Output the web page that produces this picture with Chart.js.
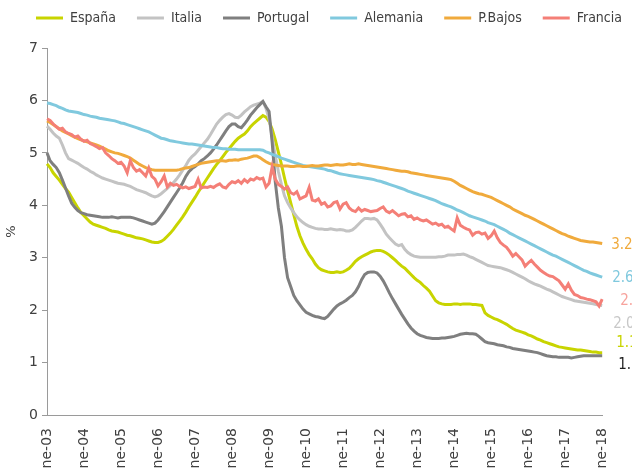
<!DOCTYPE html>
<html>
<head>
<meta charset="utf-8">
<script src="https://cdn.jsdelivr.net/npm/chart.js@4"></script>
<style>
  html, body { margin: 0; padding: 0; background: #fff; overflow: hidden; }
  #wrap { position: relative; width: 632px; height: 490px; }
</style>
</head>
<body>
<div id="wrap"><canvas id="myChart"></canvas></div>
<script>
// categories: monthly, ene-03 .. ene-18
const meses = ["ene", "feb", "mar", "abr", "may", "jun", "jul", "ago", "sep", "oct", "nov", "dic"];
const anios = ["03", "04", "05", "06", "07", "08", "09", "10", "11", "12", "13", "14", "15", "16", "17", "18"];

const espana = [
  4.79, 4.72, 4.62, 4.55, 4.48, 4.40, 4.32, 4.25, 4.15, 4.05, 3.95, 3.86,
  3.80, 3.74, 3.68, 3.64, 3.62, 3.60, 3.58, 3.56, 3.53, 3.51, 3.50, 3.49,
  3.47, 3.45, 3.43, 3.42, 3.40, 3.38, 3.37, 3.36, 3.34, 3.32, 3.30, 3.29,
  3.29, 3.31, 3.35, 3.41, 3.47, 3.54, 3.62, 3.70, 3.78, 3.87, 3.97, 4.06,
  4.15, 4.25, 4.34, 4.43, 4.52, 4.61, 4.70, 4.78, 4.85, 4.93, 5.01, 5.08,
  5.15, 5.22, 5.28, 5.32, 5.36, 5.42, 5.50, 5.56, 5.61, 5.66, 5.71, 5.68,
  5.60, 5.45, 5.25, 5.02, 4.78, 4.52, 4.28, 4.05, 3.82, 3.60, 3.42, 3.28,
  3.16, 3.06, 2.98, 2.88, 2.81, 2.77, 2.75, 2.73, 2.72, 2.72, 2.73, 2.72,
  2.73, 2.76, 2.80, 2.86, 2.93, 2.98, 3.02, 3.05, 3.08, 3.11, 3.13, 3.14,
  3.14, 3.12, 3.09, 3.05, 3.00, 2.95, 2.89, 2.84, 2.80, 2.74, 2.68, 2.62,
  2.57, 2.53, 2.47, 2.42, 2.36, 2.27, 2.18, 2.14, 2.12, 2.11, 2.11, 2.11,
  2.12, 2.12, 2.11, 2.12, 2.12, 2.12, 2.11, 2.11, 2.10, 2.09, 1.95, 1.90,
  1.87, 1.84, 1.82, 1.79, 1.76, 1.73, 1.69, 1.65, 1.62, 1.60, 1.58, 1.56,
  1.53, 1.51, 1.48, 1.45, 1.43, 1.40, 1.38, 1.36, 1.34, 1.32, 1.30, 1.29,
  1.28, 1.27, 1.26, 1.25, 1.24, 1.24, 1.23, 1.22, 1.21, 1.20, 1.20, 1.19,
  1.19
];

const italia = [
  5.51, 5.45, 5.38, 5.32, 5.28, 5.15, 5.00, 4.89, 4.86, 4.83, 4.80, 4.76,
  4.72, 4.69, 4.65, 4.62, 4.58, 4.55, 4.52, 4.50, 4.48, 4.46, 4.44, 4.42,
  4.41, 4.40, 4.38, 4.36, 4.33, 4.30, 4.28, 4.26, 4.24, 4.21, 4.18, 4.16,
  4.18, 4.22, 4.27, 4.32, 4.38, 4.43, 4.50, 4.58, 4.67, 4.76, 4.86, 4.93,
  4.98, 5.05, 5.12, 5.19, 5.26, 5.35, 5.45, 5.55, 5.62, 5.68, 5.73, 5.75,
  5.72, 5.68, 5.67, 5.72, 5.78, 5.83, 5.88, 5.91, 5.93, 5.95, 5.98, 5.85,
  5.65, 5.30, 4.95, 4.65, 4.40, 4.18, 4.05, 3.95, 3.86, 3.78, 3.72, 3.67,
  3.63, 3.60, 3.58, 3.56, 3.55, 3.55, 3.54, 3.54, 3.55, 3.54, 3.53, 3.54,
  3.53, 3.51, 3.51, 3.53, 3.58, 3.64, 3.70, 3.75, 3.75, 3.74, 3.75, 3.72,
  3.64, 3.55, 3.45, 3.38, 3.32, 3.26, 3.23, 3.25, 3.16, 3.10, 3.06, 3.03,
  3.02, 3.01, 3.01, 3.01, 3.01, 3.01, 3.01, 3.02, 3.02, 3.03, 3.05, 3.05,
  3.05, 3.06, 3.06, 3.07, 3.05, 3.02, 3.00, 2.97, 2.94, 2.91, 2.88, 2.85,
  2.84, 2.83, 2.82, 2.81, 2.79, 2.77, 2.75, 2.72, 2.69, 2.66, 2.63, 2.60,
  2.56, 2.53, 2.50, 2.48, 2.46, 2.43, 2.40, 2.38, 2.35, 2.32, 2.29, 2.26,
  2.24, 2.22, 2.20, 2.18, 2.17, 2.16, 2.15, 2.14, 2.13, 2.12, 2.11, 2.10,
  2.09
];

const portugal = [
  5.00, 4.85, 4.78, 4.72, 4.62, 4.48, 4.33, 4.18, 4.04, 3.96, 3.90, 3.86,
  3.84, 3.82, 3.81, 3.80, 3.79, 3.78, 3.77, 3.77, 3.77, 3.78, 3.77, 3.76,
  3.77, 3.77, 3.77, 3.77, 3.76, 3.74, 3.72, 3.70, 3.68, 3.66, 3.64, 3.66,
  3.72, 3.80, 3.88, 3.97, 4.06, 4.15, 4.24, 4.33, 4.43, 4.55, 4.64, 4.70,
  4.74, 4.79, 4.85, 4.89, 4.94, 5.00, 5.07, 5.15, 5.24, 5.33, 5.42, 5.50,
  5.55, 5.55, 5.50, 5.48, 5.55, 5.63, 5.72, 5.79, 5.86, 5.92, 5.98, 5.88,
  5.79, 5.20, 4.45, 3.95, 3.60, 3.00, 2.62, 2.45, 2.28, 2.18, 2.10, 2.02,
  1.96, 1.93, 1.90, 1.88, 1.87, 1.85, 1.84, 1.88, 1.95, 2.02, 2.08, 2.12,
  2.15, 2.19, 2.24, 2.28, 2.35, 2.45, 2.58, 2.68, 2.72, 2.73, 2.73, 2.71,
  2.65, 2.56, 2.45, 2.33, 2.22, 2.12, 2.02, 1.92, 1.83, 1.74, 1.66, 1.60,
  1.55, 1.52, 1.50, 1.48, 1.47, 1.46, 1.46, 1.46, 1.47, 1.47, 1.48, 1.49,
  1.50, 1.52, 1.54, 1.55, 1.56, 1.55, 1.55, 1.54, 1.50, 1.45, 1.40, 1.38,
  1.37, 1.36, 1.34, 1.33, 1.32, 1.30, 1.29, 1.27, 1.26, 1.25, 1.24, 1.23,
  1.22, 1.21, 1.20, 1.19, 1.17, 1.15, 1.13, 1.12, 1.11, 1.11, 1.10, 1.10,
  1.10, 1.10, 1.09, 1.10, 1.11, 1.12, 1.13, 1.13, 1.13, 1.13, 1.13, 1.13,
  1.13
];

const alemania = [
  5.95, 5.94, 5.92, 5.90, 5.87, 5.85, 5.82, 5.80, 5.79, 5.78, 5.77, 5.75,
  5.73, 5.72, 5.70, 5.69, 5.68, 5.66, 5.65, 5.64, 5.63, 5.62, 5.61, 5.59,
  5.57, 5.56, 5.54, 5.52, 5.50, 5.48, 5.46, 5.44, 5.42, 5.40, 5.37, 5.34,
  5.31, 5.28, 5.27, 5.25, 5.23, 5.22, 5.21, 5.20, 5.19, 5.18, 5.17, 5.17,
  5.16, 5.15, 5.14, 5.13, 5.12, 5.11, 5.10, 5.10, 5.09, 5.08, 5.08, 5.07,
  5.07, 5.07, 5.06, 5.06, 5.06, 5.06, 5.06, 5.06, 5.06, 5.06, 5.05, 5.02,
  5.00, 4.97, 4.95, 4.93, 4.90, 4.88, 4.86, 4.84, 4.82, 4.80, 4.78, 4.76,
  4.75, 4.74, 4.73, 4.72, 4.71, 4.70, 4.69, 4.67, 4.66, 4.64, 4.62, 4.60,
  4.59, 4.58, 4.57, 4.56, 4.55, 4.54, 4.53, 4.52, 4.51, 4.50, 4.49, 4.47,
  4.46, 4.44, 4.42, 4.40, 4.38, 4.36, 4.34, 4.32, 4.30, 4.27, 4.25, 4.23,
  4.21, 4.19, 4.17, 4.15, 4.13, 4.11, 4.09, 4.06, 4.03, 4.01, 3.99, 3.97,
  3.94, 3.91, 3.89, 3.86, 3.83, 3.80, 3.78, 3.76, 3.74, 3.72, 3.70, 3.67,
  3.65, 3.63, 3.60, 3.57, 3.54, 3.51, 3.47, 3.44, 3.41, 3.38, 3.35, 3.32,
  3.29, 3.26, 3.23, 3.20, 3.17, 3.14, 3.11, 3.08, 3.05, 3.03, 3.00, 2.97,
  2.94, 2.91, 2.88, 2.85, 2.82, 2.79, 2.76, 2.74, 2.71, 2.69, 2.67, 2.65,
  2.63
];

const pbajos = [
  5.61, 5.58, 5.54, 5.50, 5.46, 5.42, 5.39, 5.36, 5.33, 5.30, 5.27, 5.25,
  5.23, 5.21, 5.19, 5.17, 5.15, 5.13, 5.10, 5.07, 5.04, 5.02, 5.00, 4.99,
  4.97, 4.95, 4.93, 4.90, 4.86, 4.82, 4.78, 4.75, 4.72, 4.70, 4.68, 4.67,
  4.67, 4.67, 4.67, 4.67, 4.67, 4.67, 4.67, 4.68, 4.70, 4.71, 4.72, 4.74,
  4.76, 4.78, 4.80, 4.81, 4.82, 4.83, 4.84, 4.85, 4.85, 4.85, 4.84, 4.86,
  4.86, 4.87, 4.86, 4.88, 4.89, 4.90, 4.92, 4.94, 4.94, 4.91, 4.87, 4.83,
  4.80, 4.78, 4.77, 4.76, 4.75, 4.75, 4.75, 4.74, 4.74, 4.75, 4.75, 4.74,
  4.74, 4.75, 4.76, 4.75, 4.75, 4.76, 4.77, 4.77, 4.76, 4.77, 4.78, 4.77,
  4.77, 4.78, 4.79, 4.78, 4.78, 4.79, 4.78, 4.77, 4.76, 4.75, 4.74, 4.73,
  4.72, 4.71, 4.70, 4.69, 4.68, 4.67, 4.66, 4.65, 4.65, 4.64, 4.62, 4.61,
  4.60, 4.59, 4.58, 4.57, 4.56, 4.55, 4.54, 4.53, 4.52, 4.51, 4.50, 4.49,
  4.46, 4.42, 4.38, 4.35, 4.32, 4.29, 4.26, 4.24, 4.22, 4.21, 4.19, 4.17,
  4.15, 4.12, 4.09, 4.06, 4.03, 4.00, 3.97, 3.93, 3.90, 3.87, 3.84, 3.81,
  3.79, 3.76, 3.73, 3.70, 3.67, 3.64, 3.61, 3.58, 3.55, 3.52, 3.49, 3.46,
  3.44, 3.41, 3.39, 3.37, 3.35, 3.33, 3.32, 3.31, 3.30, 3.30, 3.29, 3.28,
  3.27
];

const francia = [
  5.65, 5.62, 5.55, 5.50, 5.45, 5.47, 5.40, 5.37, 5.35, 5.30, 5.32, 5.26,
  5.22, 5.24, 5.18, 5.15, 5.12, 5.08, 5.10, 5.00, 4.95, 4.89, 4.85, 4.80,
  4.82, 4.75, 4.62, 4.85, 4.72, 4.65, 4.68, 4.62, 4.56, 4.71, 4.55, 4.50,
  4.37, 4.45, 4.56, 4.35, 4.42, 4.38, 4.40, 4.36, 4.33, 4.35, 4.32, 4.34,
  4.36, 4.50, 4.33, 4.35, 4.34, 4.36, 4.34, 4.38, 4.41, 4.35, 4.33, 4.40,
  4.45, 4.43, 4.47, 4.42, 4.49, 4.44, 4.50, 4.48, 4.53, 4.50, 4.52, 4.35,
  4.42, 4.73, 4.50, 4.40, 4.36, 4.31, 4.35, 4.24, 4.21, 4.26, 4.12, 4.15,
  4.18, 4.34, 4.10, 4.08, 4.12, 4.02, 4.05, 3.97, 3.99, 4.05, 4.07, 3.93,
  4.02, 4.05, 3.95, 3.90, 3.88, 3.95, 3.89, 3.92, 3.90, 3.88, 3.89, 3.90,
  3.94, 3.97, 3.89, 3.86, 3.90, 3.85, 3.80, 3.83, 3.84, 3.78, 3.80, 3.73,
  3.76, 3.72, 3.70, 3.72, 3.68, 3.64, 3.66, 3.62, 3.64, 3.58, 3.60, 3.55,
  3.51, 3.76, 3.62, 3.58, 3.55, 3.53, 3.43, 3.48, 3.49, 3.45, 3.47, 3.37,
  3.42, 3.51, 3.38, 3.29, 3.24, 3.20, 3.12, 3.03, 3.08, 3.02, 2.96, 2.84,
  2.90, 2.95, 2.88, 2.82, 2.76, 2.72, 2.68, 2.65, 2.64, 2.60, 2.56, 2.48,
  2.40, 2.50, 2.38, 2.30, 2.28, 2.24, 2.23, 2.21, 2.20, 2.18, 2.16, 2.08,
  2.21
];

const categorias = [];
anios.forEach(a => meses.forEach(m => categorias.push(m + "-" + a)));
categorias.length = espana.length;

const condensed = "'DejaVu Sans Condensed', 'DejaVu Sans', sans-serif";
const plain = "'DejaVu Sans', Verdana, sans-serif";

const series = [
  { label: "España",   data: espana,   color: "#c8d400", tag: "#c8d400", dy: -10, dx: 14 },
  { label: "Italia",   data: italia,   color: "#c3c3c3", tag: "#c8c8c8", dy: 19,  dx: 11 },
  { label: "Portugal", data: portugal, color: "#7f7f7f", tag: "#1e1e1e", dy: 9,   dx: 16 },
  { label: "Alemania", data: alemania, color: "#80c9de", tag: "#80c9de", dy: 1,   dx: 10 },
  { label: "P.Bajos",  data: pbajos,   color: "#f0aa3c", tag: "#f0aa3c", dy: 2,   dx: 9 },
  { label: "Francia",  data: francia,  color: "#f47f77", tag: "#f7a39d", dy: 2,   dx: 18 }
];

// last value written to the right of each line
const endLabels = {
  id: "endLabels",
  afterDatasetsDraw(chart) {
    const ctx = chart.ctx;
    ctx.save();
    ctx.font = "15px " + condensed;
    ctx.textBaseline = "middle";
    ctx.textAlign = "left";
    series.forEach((s, i) => {
      const meta = chart.getDatasetMeta(i);
      const pt = meta.data[meta.data.length - 1];
      ctx.fillStyle = s.tag;
      ctx.fillText(s.data[s.data.length - 1].toFixed(2), pt.x + s.dx, pt.y + s.dy);
    });
    ctx.restore();
  }
};

// nudge the legend row to where the original sits
const legendShift = {
  id: "legendShift",
  afterLayout(chart) {
    const lg = chart.legend;
    lg.left += 15; lg.right += 15;
    lg.top -= 13; lg.bottom -= 13;
  }
};

new Chart(document.getElementById("myChart"), {
  type: "line",
  data: {
    labels: categorias,
    datasets: series.map((s, i) => ({
      label: s.label,
      data: s.data,
      borderColor: s.color,
      backgroundColor: s.color,
      borderWidth: 3,
      pointRadius: 0,
      tension: 0,
      order: series.length - i
    }))
  },
  options: {
    responsive: true,
    maintainAspectRatio: false,
    animation: false,
    layout: { padding: { top: 3, left: 0, right: 0, bottom: 0 } },
    plugins: {
      tooltip: { enabled: false },
      legend: {
        position: "top",
        align: "start",
        labels: {
          usePointStyle: true,
          pointStyle: "line",
          pointStyleWidth: 27,
          padding: 21,
          color: "#404040",
          font: { family: condensed, size: 14 },
          sort: (a, b) => a.datasetIndex - b.datasetIndex
        }
      }
    },
    scales: {
      x: {
        type: "category",
        grid: { display: false, drawTicks: false },
        border: { display: true, color: "#9a9a9a", width: 1 },
        ticks: {
          autoSkip: false,
          minRotation: 90,
          maxRotation: 90,
          padding: 13,
          color: "#404040",
          font: { family: plain, size: 14 },
          callback: function (v, i) { return i % 12 === 0 ? this.getLabelForValue(v) : ""; }
        }
      },
      y: {
        min: 0,
        max: 7,
        ticks: { stepSize: 1, padding: 4, color: "#404040", font: { family: plain, size: 14 } },
        grid: { drawOnChartArea: false, drawTicks: true, tickLength: 5, color: "#9a9a9a" },
        border: { display: true, color: "#9a9a9a", width: 1 },
        title: { display: true, text: "%", color: "#404040", font: { family: plain, size: 13 }, padding: { top: 4, bottom: 4 } },
        afterFit: s => { s.width = 47; }
      },
      y2: {
        position: "right",
        min: 0,
        max: 7,
        grid: { display: false, drawTicks: false },
        border: { display: false },
        ticks: { display: false },
        afterFit: s => { s.width = 29; }
      }
    }
  },
  plugins: [endLabels, legendShift]
});
</script>
</body>
</html>
